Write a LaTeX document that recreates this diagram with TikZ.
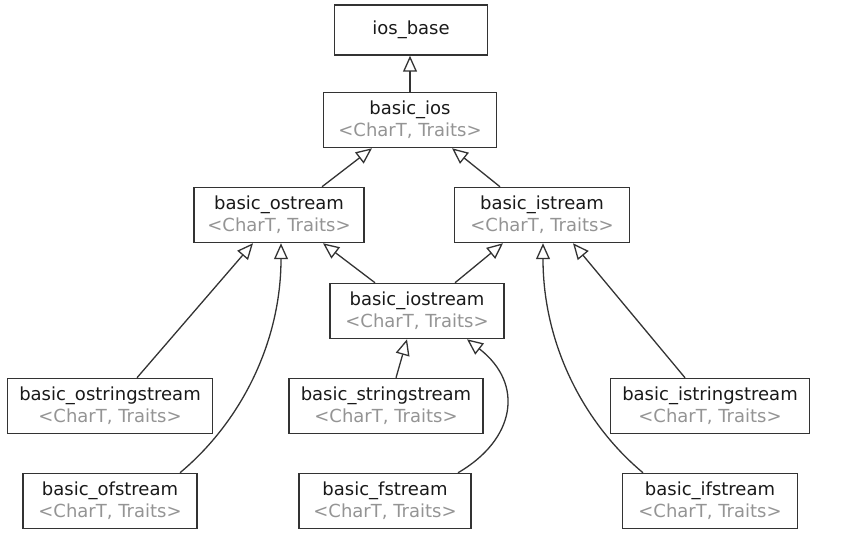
\documentclass[tikz,border=0pt]{standalone}
\usepackage{fontspec}
\setmainfont{DejaVu Sans}
\usetikzlibrary{arrows.meta}

\begin{document}
\begin{tikzpicture}
    [x=1pt, y=-1pt,
    font=\fontsize{18}{22}\selectfont,
    class/.style={draw=black!80, line width=1.5pt, align=center, text=black!90,
        minimum width=170pt, minimum height=55pt, inner xsep=12pt},
    inherits/.style={-{Triangle[open, length=16pt, width=14pt]}, line width=1.3pt, draw=black!80}]

    \def\params{\\\textcolor{black!42}{<CharT, Traits>}}
    \useasboundingbox (0, 0) rectangle (860, 553);

    % drawing the base classes
    \node[class, minimum width=153pt, minimum height=50pt] (iosbase) at (411, 30) {ios\_base};
    \node[class, minimum width=173pt] (basicios) at (410, 120) {basic\_ios\params};

    % drawing the stream classes
    \node[class] (ostream) at (279, 215) {basic\_ostream\params};
    \node[class, minimum width=175pt] (istream) at (542, 215) {basic\_istream\params};
    \node[class, minimum width=174pt] (iostream) at (417, 311) {basic\_iostream\params};

    % drawing the string and file streams
    \node[class] (ostringstream) at (110, 406) {basic\_ostringstream\params};
    \node[class] (stringstream) at (386, 406) {basic\_stringstream\params};
    \node[class] (istringstream) at (710, 406) {basic\_istringstream\params};
    \node[class, minimum width=174pt] (ofstream) at (110, 501) {basic\_ofstream\params};
    \node[class, minimum width=172pt] (fstream) at (385, 501) {basic\_fstream\params};
    \node[class, minimum width=175pt] (ifstream) at (710, 501) {basic\_ifstream\params};

    % drawing the inheritance arrows
    \draw[inherits] (basicios.north) -- (basicios.north |- iosbase.south);
    \draw[inherits] ([xshift=43pt]ostream.north) -- ([xshift=-38pt]basicios.south);
    \draw[inherits] ([xshift=-42pt]istream.north) -- ([xshift=42pt]basicios.south);
    \draw[inherits] ([xshift=-42pt]iostream.north) -- ([xshift=44pt]ostream.south);
    \draw[inherits] ([xshift=38pt]iostream.north) -- ([xshift=-39pt]istream.south);
    \draw[inherits] ([xshift=27pt]ostringstream.north) -- ([xshift=-26pt]ostream.south);
    \draw[inherits] ([xshift=70pt]ofstream.north)
        .. controls +(60, -50) and +(0, 100) .. ([xshift=2pt]ostream.south);
    \draw[inherits] ([xshift=10pt]stringstream.north) -- ([xshift=-10pt]iostream.south);
    \draw[inherits] ([xshift=73pt]fstream.north)
        .. controls +(57, -33) and +(58, 45) .. ([xshift=50pt]iostream.south);
    \draw[inherits] ([xshift=-25pt]istringstream.north) -- ([xshift=31pt]istream.south);
    \draw[inherits] ([xshift=-67pt]ifstream.north)
        .. controls +(-60, -50) and +(0, 100) .. ([xshift=1pt]istream.south);

\end{tikzpicture}
\end{document}
